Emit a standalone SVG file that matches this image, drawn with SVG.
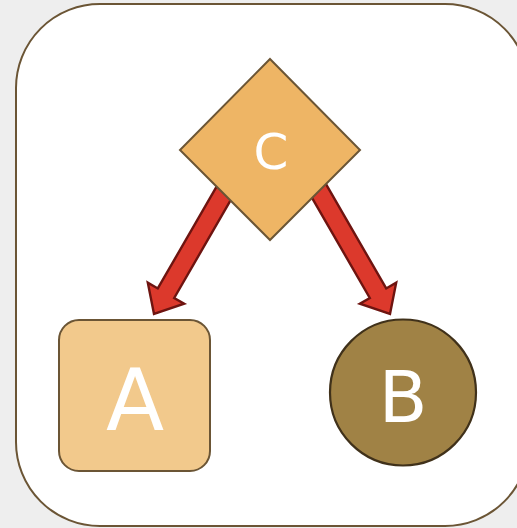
<svg xmlns="http://www.w3.org/2000/svg" width="517" height="528" viewBox="0 0 517 528">
<style>
.lbl{font-family:"DejaVu Sans",sans-serif;fill:#ffffff;text-anchor:middle}
.node{stroke:#6b5535;stroke-width:2}
.arrow{fill:#dc392c;stroke:#6e1410;stroke-width:2.4;stroke-linejoin:miter}
</style>
<rect x="0" y="0" width="517" height="528" fill="#eeeeee"/>
<rect id="frame" x="16" y="4" width="513" height="522" rx="84" ry="84" fill="#ffffff" stroke="#6b5535" stroke-width="2"/>
<g id="connectors">
<polygon class="arrow" points="242.2,180.15 174.2,297.95 184.2,303.7 154,314 147.8,282.7 157.8,288.45 225.8,170.65"/>
<polygon class="arrow" points="318.2,170.65 386.2,288.45 396.2,282.7 390,314 359.8,303.7 369.8,297.95 301.8,180.15"/>
</g>
<g id="C">
<polygon class="node" fill="#eeb565" points="270,59 360,150 270,240 180,150"/>
<text class="lbl" x="271" y="169" font-size="50">C</text>
</g>
<g id="A">
<rect class="node" fill="#f2c98c" x="59" y="320" width="151" height="151" rx="20" ry="20"/>
<text class="lbl" x="135" y="430" font-size="85">A</text>
</g>
<g id="B">
<circle cx="403" cy="392.5" r="73" fill="#a08245" stroke="#40311a" stroke-width="2.2"/>
<text class="lbl" x="403" y="422" font-size="71">B</text>
</g>
</svg>
